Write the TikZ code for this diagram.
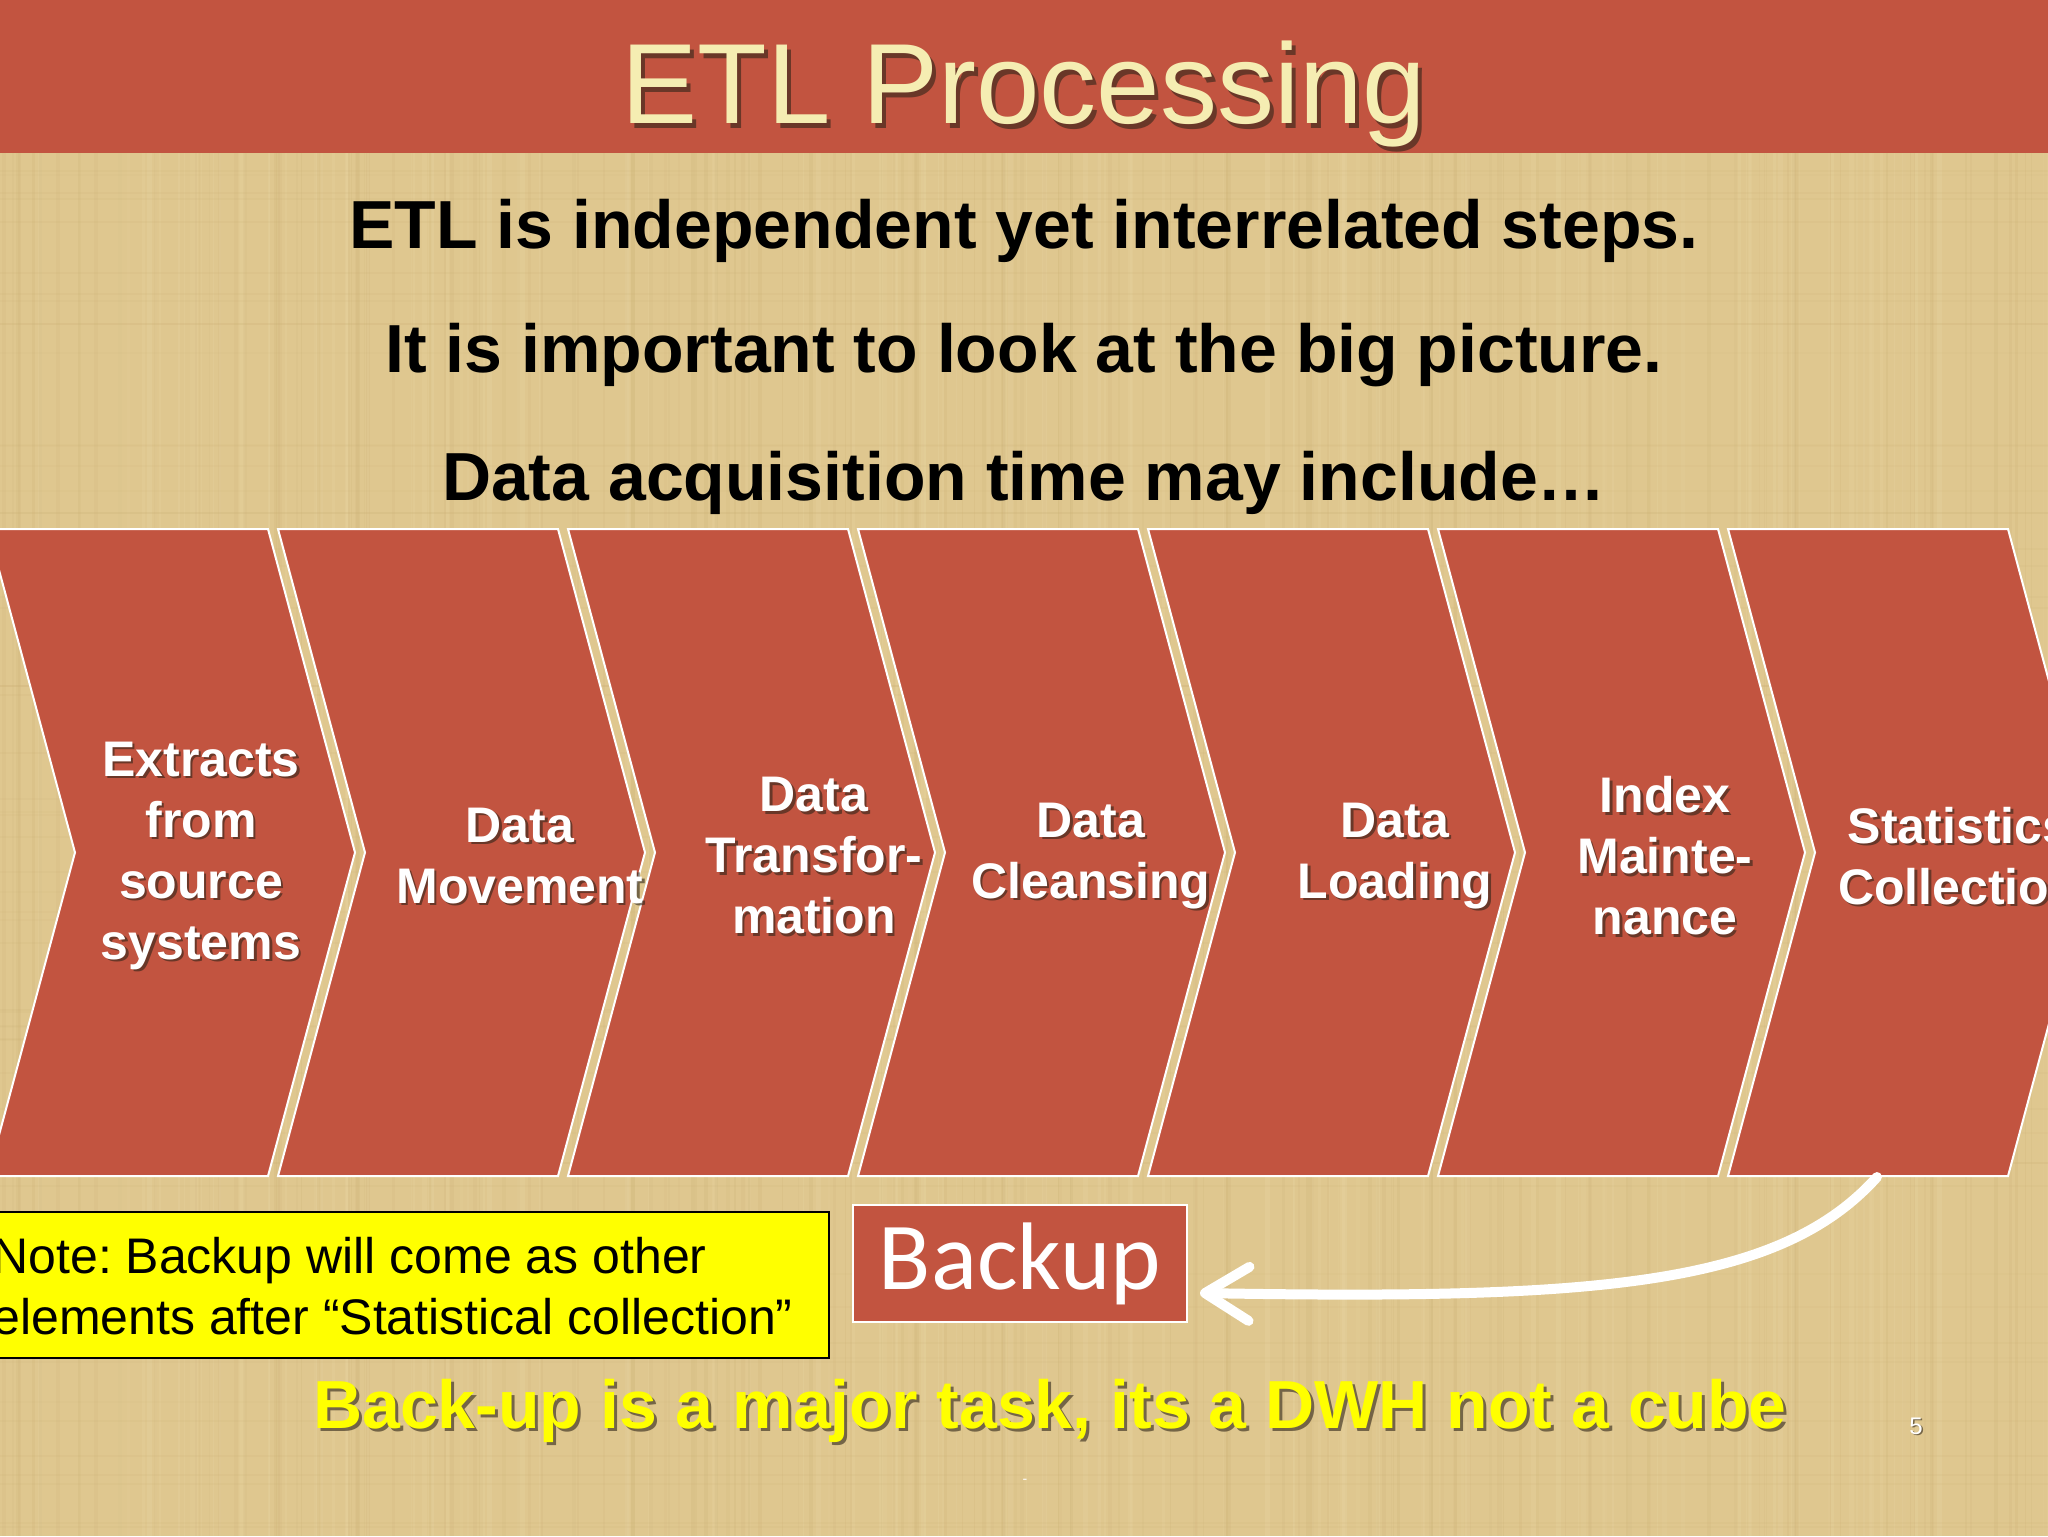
\documentclass[tikz,border=0pt]{standalone}
\usepackage{fontspec}
\setmainfont{Liberation Sans}
\newfontfamily\calib{Carlito}
\usetikzlibrary{arrows.meta}
\definecolor{bg}{HTML}{DFC78F}
\definecolor{bgdark}{HTML}{C9AE72}
\definecolor{bglight}{HTML}{EBD9A8}
\definecolor{brick}{HTML}{C25440}
\definecolor{cream}{HTML}{F5EDB2}
\definecolor{shade}{HTML}{2E2418}
\definecolor{noteyellow}{HTML}{FFFF00}
\newcommand\shtxt[5]{%
  \node[#2,text=shade,text opacity=0.6,xshift=#5,yshift=-#5] (#1-sh) at #3 {#4};
  \node[#2] (#1) at #3 {#4};}
\frenchspacing
\begin{document}
\begin{tikzpicture}[x=0.5pt,y=-0.5pt,
  chev/.style={fill=brick,draw=white,line width=1pt,line join=miter},
  titletext/.style={text=cream,font=\fontsize{57}{60}\selectfont,anchor=base,inner sep=0pt},
  headtext/.style={text=black,font=\bfseries\fontsize{34}{40}\selectfont,anchor=base,inner sep=0pt},
  steptext/.style={text=white,font=\bfseries\fontsize{25}{30.5}\selectfont,align=center,inner sep=0pt},
  backupbox/.style={fill=brick,draw=white,line width=1pt,minimum width=167pt,minimum height=58.5pt,inner sep=0pt,text=white,font=\calib\fontsize{48}{52}\selectfont},
  notebox/.style={fill=noteyellow,draw=black,line width=1pt,minimum width=415.5pt,minimum height=73pt,inner sep=0pt,anchor=north west},
  notetext/.style={text=black,font=\fontsize{25}{30.5}\selectfont,align=left,anchor=west,inner sep=0pt},
  bottomtext/.style={text=noteyellow,font=\bfseries\fontsize{34}{40}\selectfont,anchor=base,inner sep=0pt},
  pagenum/.style={text=white,font=\fontsize{12}{14}\selectfont,inner sep=0pt},
  backarrow/.style={draw=white,line width=5pt,line cap=round,-{Straight Barb[length=22pt,width=27pt,round]}}
]
\useasboundingbox (0,0) rectangle (2048,1536);
\clip (0,0) rectangle (2048,1536);
% background with faint parchment texture
\fill[bg] (0,0) rectangle (2048,1536);
\pgfmathsetseed{7}
\foreach \i in {1,...,160}{
  \pgfmathsetmacro\xx{random(0,2048)}
  \pgfmathsetmacro\ww{random(1,4)}
  \pgfmathsetmacro\op{0.08+0.12*rnd}
  \fill[bgdark,opacity=\op] (\xx,150) rectangle (\xx+\ww,1536);
}
\foreach \i in {1,...,120}{
  \pgfmathsetmacro\xx{random(0,2048)}
  \pgfmathsetmacro\ww{random(1,5)}
  \pgfmathsetmacro\op{0.10+0.15*rnd}
  \fill[bglight,opacity=\op] (\xx,150) rectangle (\xx+\ww,1536);
}
\foreach \i in {1,...,60}{
  \pgfmathsetmacro\yy{random(150,1536)}
  \pgfmathsetmacro\op{0.06+0.08*rnd}
  \fill[bgdark,opacity=\op] (0,\yy) rectangle (2048,\yy+2);
}
\fill[brick] (0,0) rectangle (2048,153);
\shtxt{title}{titletext}{(1024,124)}{ETL Processing}{2pt}
% header lines
\node[headtext] (h1) at (1024,248) {ETL is independent yet interrelated steps.};
\node[headtext] (h2) at (1024,372) {It is important to look at the big picture.};
\node[headtext] (h3) at (1024,500) {Data acquisition time may include\ldots};
% chevrons
\foreach \k in {0,...,6}{
  \pgfmathsetmacro\L{-12+290*\k}
  \pgfmathsetmacro\R{\L+280}
  \draw[chev] (\L,529) -- (\R,529) -- (\R+87,852.5) -- (\R,1176) -- (\L,1176) -- (\L+87,852.5) -- cycle;
}
\shtxt{s1}{steptext}{(201,856)}{Extracts\\from\\source\\systems}{1.2pt}
\shtxt{s2}{steptext}{(520,856)}{Data\\Movement}{1.2pt}
\shtxt{s3}{steptext}{(814,856)}{Data\\Transfor-\\mation}{1.2pt}
\shtxt{s4}{steptext}{(1091,856)}{Data\\Cleansing}{1.2pt}
\shtxt{s5}{steptext}{(1395,856)}{Data\\Loading}{1.2pt}
\shtxt{s6}{steptext}{(1665,856)}{Index\\Mainte-\\nance}{1.2pt}
\shtxt{s7}{steptext}{(1959,856)}{Statistics\\Collection}{1.2pt}
% note and backup
\node[notebox] (note) at (-3,1211) {};
\node[notetext] (notetxt) at (-8,1286) {Note: Backup will come as other\\elements after “Statistical collection”};
\node[backupbox] (backup) at (1020,1263.5) {Backup};
\coordinate (arrstart) at (1877,1177);
\draw[backarrow] (arrstart) .. controls (1780,1285) and (1600,1300) .. ([xshift=6pt,yshift=-14.75pt]backup.east);
% bottom line
\shtxt{bottom}{bottomtext}{(1050,1428)}{Back-up is a major task, its a DWH not a cube}{1.5pt}
\shtxt{pnum}{pagenum}{(1916,1426)}{5}{0.8pt}
\node[text=white,font=\fontsize{7}{8}\selectfont,inner sep=0pt] (dash) at (1025,1481) {-};
\end{tikzpicture}
\end{document}
